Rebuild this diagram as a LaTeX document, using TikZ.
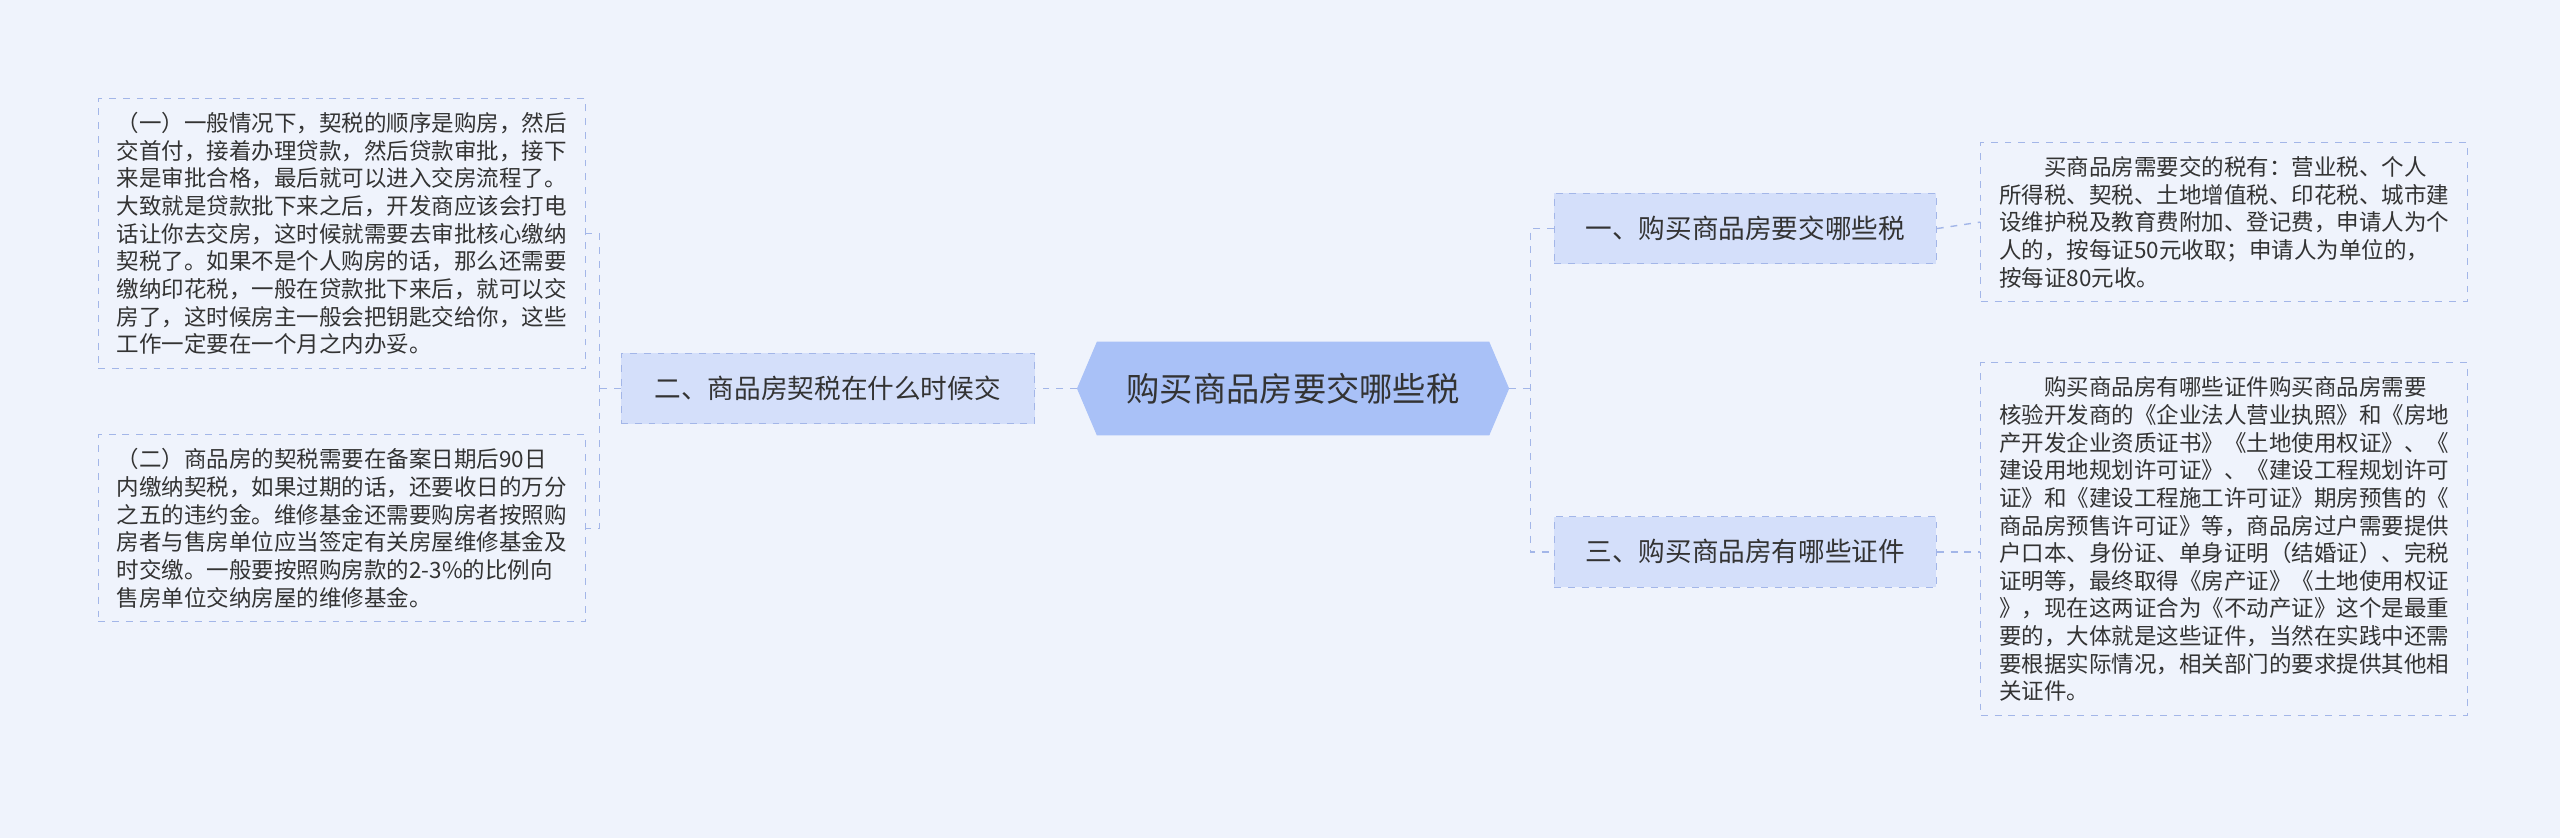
\documentclass[tikz,border=0pt]{standalone}
\usepackage{fontspec}
\setmainfont{Noto Sans CJK SC}
\usetikzlibrary{shapes.symbols}
\definecolor{bgcol}{HTML}{EFF3FC}
\definecolor{rootcol}{HTML}{A9C1F7}
\definecolor{branchcol}{HTML}{D4DFFA}
\definecolor{edgecol}{HTML}{A3B6E8}
\definecolor{txtcol}{HTML}{333333}
\tikzset{
  rootbox/.style={signal, signal to=east and west, signal pointer angle=134,
    fill=rootcol, draw=rootcol, text=txtcol, font=\fontsize{14.5pt}{17pt}\selectfont,
    minimum width=6.6cm, minimum height=1.42cm, inner xsep=2pt},
  branchbox/.style={fill=branchcol, draw=edgecol, dashed, text=txtcol,
    font=\fontsize{11.6pt}{14pt}\selectfont, minimum height=1.08cm, inner xsep=6pt},
  leafbox/.style={draw=edgecol, dashed, text=txtcol, align=left, anchor=north west,
    font=\fontsize{9.8pt}{12.05pt}\selectfont, inner xsep=8pt, inner ysep=6pt,
    minimum width=7.38cm},
  link/.style={draw=edgecol, dashed, line width=0.6pt}
}
\begin{document}
\begin{tikzpicture}[x=0.025cm, y=-0.025cm]
    \fill[bgcol] (0,0) rectangle (1568,513);
    \useasboundingbox (0,0) rectangle (1568,513);

    % root and branches
    \node[rootbox] (root) at (792,238) {购买商品房要交哪些税};
    \node[branchbox, minimum width=6.33cm] (b2) at (507,238) {二、商品房契税在什么时候交};
    \node[branchbox, minimum width=5.85cm] (b1) at (1069,140) {一、购买商品房要交哪些税};
    \node[branchbox, minimum width=5.85cm] (b3) at (1069,338) {三、购买商品房有哪些证件};

    % leaves
    \node[leafbox] (l1) at (60,60) {（一）一般情况下，契税的顺序是购房，然后\\交首付，接着办理贷款，然后贷款审批，接下\\来是审批合格，最后就可以进入交房流程了。\\大致就是贷款批下来之后，开发商应该会打电\\话让你去交房，这时候就需要去审批核心缴纳\\契税了。如果不是个人购房的话，那么还需要\\缴纳印花税，一般在贷款批下来后，就可以交\\房了，这时候房主一般会把钥匙交给你，这些\\工作一定要在一个月之内办妥。};
    \node[leafbox] (l2) at (60,266) {（二）商品房的契税需要在备案日期后90日\\内缴纳契税，如果过期的话，还要收日的万分\\之五的违约金。维修基金还需要购房者按照购\\房者与售房单位应当签定有关房屋维修基金及\\时交缴。一般要按照购房款的2-3\%的比例向\\售房单位交纳房屋的维修基金。};
    \node[leafbox] (l3) at (1213,87) {\hspace*{2em}买商品房需要交的税有：营业税、个人\\所得税、契税、土地增值税、印花税、城市建\\设维护税及教育费附加、登记费，申请人为个\\人的，按每证50元收取；申请人为单位的，\\按每证80元收。};
    \node[leafbox] (l4) at (1213,222) {\hspace*{2em}购买商品房有哪些证件购买商品房需要\\核验开发商的《企业法人营业执照》和《房地\\产开发企业资质证书》《土地使用权证》、《\\建设用地规划许可证》、《建设工程规划许可\\证》和《建设工程施工许可证》期房预售的《\\商品房预售许可证》等，商品房过户需要提供\\户口本、身份证、单身证明（结婚证）、完税\\证明等，最终取得《房产证》《土地使用权证\\》，现在这两证合为《不动产证》这个是最重\\要的，大体就是这些证件，当然在实践中还需\\要根据实际情况，相关部门的要求提供其他相\\关证件。};

    % connectors
    \draw[link] (root.west) -- (b2.east);
    \draw[link] (b2.west) -- ++(-13,0) coordinate (lj);
    \draw[link] (l1.east) -- (lj |- l1.east) -- (lj |- l2.east) -- (l2.east);
    \draw[link] (root.east) -- ++(13,0) coordinate (rj);
    \draw[link] (b1.west) -- (rj |- b1.west) -- (rj |- b3.west) -- (b3.west);
    \draw[link] (b1.east) -- (l3.west);
    \draw[link] (b3.east) -- (b3.east -| l4.west);
\end{tikzpicture}
\end{document}
